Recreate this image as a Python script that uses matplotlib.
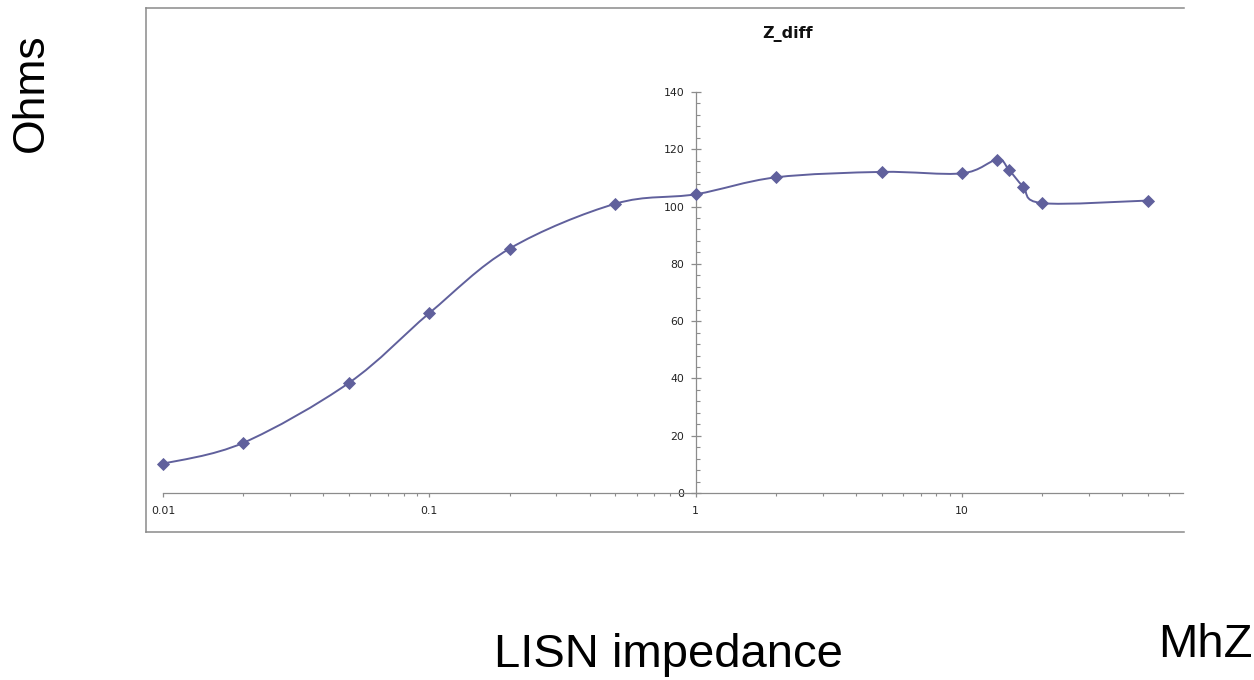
import numpy as np
import matplotlib
matplotlib.use("Agg")
import matplotlib.pyplot as plt
from matplotlib.path import Path
from matplotlib.patches import PathPatch
from matplotlib.lines import Line2D
from matplotlib.ticker import LogLocator, MultipleLocator, FuncFormatter, NullFormatter

# ------------------- DATOS -------------------
freq_mhz = [0.01, 0.02, 0.05, 0.1, 0.2, 0.5, 1, 2, 5, 10, 13.56, 15, 17, 20, 50]
z_diff = [10.2, 17.5, 38.5, 62.8, 85.3, 101.0, 104.3, 110.2, 112.1, 111.6, 116.4, 112.8, 106.9, 101.2, 102.1]

title = "Z_diff"
y_label = "Ohms"
x_label = "LISN impedance"
x_unit = "MhZ"

y_ticks = [0, 20, 40, 60, 80, 100, 120, 140]
x_ticks = [0.01, 0.1, 1, 10]

# ------------------- ESTILO -------------------
W, H = 1254, 680
LINE_COLOR = "#60609c"
FRAME_COLOR = "#8a8a8a"
AXIS_COLOR = "#8c8c8c"
TICK_FONT = "DejaVu Sans"
BIG_FONT = "Liberation Sans"


def px(x):
    return x / W


def py(y):
    return 1 - y / H


def smooth_path(xs, ys):
    # curva suavizada tipo Excel (Catmull-Rom -> Bezier) en espacio log10(x), y
    u = np.log10(np.asarray(xs, dtype=float))
    v = np.asarray(ys, dtype=float)
    pts = np.column_stack([u, v])
    n = len(pts)
    verts = [pts[0]]
    codes = [Path.MOVETO]
    for i in range(n - 1):
        p_prev = pts[i - 1] if i > 0 else pts[i]
        p_next2 = pts[i + 2] if i + 2 < n else pts[i + 1]
        c1 = pts[i] + (pts[i + 1] - p_prev) / 6.0
        c2 = pts[i + 1] - (p_next2 - pts[i]) / 6.0
        verts.extend([c1, c2, pts[i + 1]])
        codes.extend([Path.CURVE4] * 3)
    verts = np.array(verts)
    verts[:, 0] = 10 ** verts[:, 0]
    return Path(verts, codes)


fig = plt.figure(figsize=(W / 100, H / 100), dpi=100)

# marco del gráfico (recortado a la derecha)
frame_kw = dict(color=FRAME_COLOR, linewidth=1.1, transform=fig.transFigure)
fig.add_artist(Line2D([px(145.5), px(145.5)], [py(7.5), py(532)], **frame_kw))
fig.add_artist(Line2D([px(145.5), px(1184)], [py(7.5), py(7.5)], **frame_kw))
fig.add_artist(Line2D([px(145.5), px(1184)], [py(532), py(532)], **frame_kw))

# área de trazado
ax = fig.add_axes([px(163), py(493), px(1183 - 163), (493 - 92) / H])
ax.set_xscale("log")
ax.set_xlim(0.01, 10 ** (-2 + 1020 / 266.33))
ax.set_ylim(0, 140)
ax.patch.set_alpha(0)

for side in ["top", "right"]:
    ax.spines[side].set_visible(False)
ax.spines["left"].set_position(("data", 1))
for side in ["left", "bottom"]:
    ax.spines[side].set_color(AXIS_COLOR)
    ax.spines[side].set_linewidth(0.9)

ax.yaxis.set_major_locator(plt.FixedLocator(y_ticks))
ax.yaxis.set_minor_locator(MultipleLocator(4))
ax.xaxis.set_major_locator(plt.FixedLocator(x_ticks))
ax.xaxis.set_minor_locator(LogLocator(base=10, subs=np.arange(2, 10), numticks=20))
ax.xaxis.set_major_formatter(FuncFormatter(lambda v, p: f"{v:g}"))
ax.xaxis.set_minor_formatter(NullFormatter())

ax.tick_params(axis="y", which="major", direction="inout", length=7, width=0.9,
               color=AXIS_COLOR, pad=4.5, labelsize=7.8, labelcolor="#222222")
ax.tick_params(axis="y", which="minor", direction="in", length=3, width=0.8, color=AXIS_COLOR)
ax.tick_params(axis="x", which="major", direction="out", length=3, width=0.9,
               color=AXIS_COLOR, pad=6, labelsize=7.8, labelcolor="#222222")
ax.tick_params(axis="x", which="minor", direction="out", length=2, width=0.8, color=AXIS_COLOR)
for lbl in ax.get_xticklabels() + ax.get_yticklabels():
    lbl.set_fontfamily(TICK_FONT)

# serie
curve = PathPatch(smooth_path(freq_mhz, z_diff), facecolor="none", edgecolor=LINE_COLOR,
                  linewidth=1.4, transform=ax.transData, zorder=3, clip_on=False)
ax.add_patch(curve)
ax.plot(freq_mhz, z_diff, linestyle="none", marker="D", markersize=6,
        color=LINE_COLOR, markeredgecolor=LINE_COLOR, markeredgewidth=0.6,
        zorder=4, clip_on=False)

# textos
fig.text(px(788), py(38.3), title, ha="center", va="baseline", fontsize=11.5,
         fontweight="bold", family=TICK_FONT, color="#111111")
fig.text(px(43.3), py(92.5), y_label, rotation=90, rotation_mode="anchor",
         ha="center", va="baseline", fontsize=32, family=BIG_FONT, color="black")
fig.text(px(668), py(666.7), x_label, ha="center", va="baseline", fontsize=34,
         family=BIG_FONT, color="black")
fig.text(px(1205), py(656.7), x_unit, ha="center", va="baseline", fontsize=34,
         family=BIG_FONT, color="black")

fig.savefig("out.png", dpi=100)
